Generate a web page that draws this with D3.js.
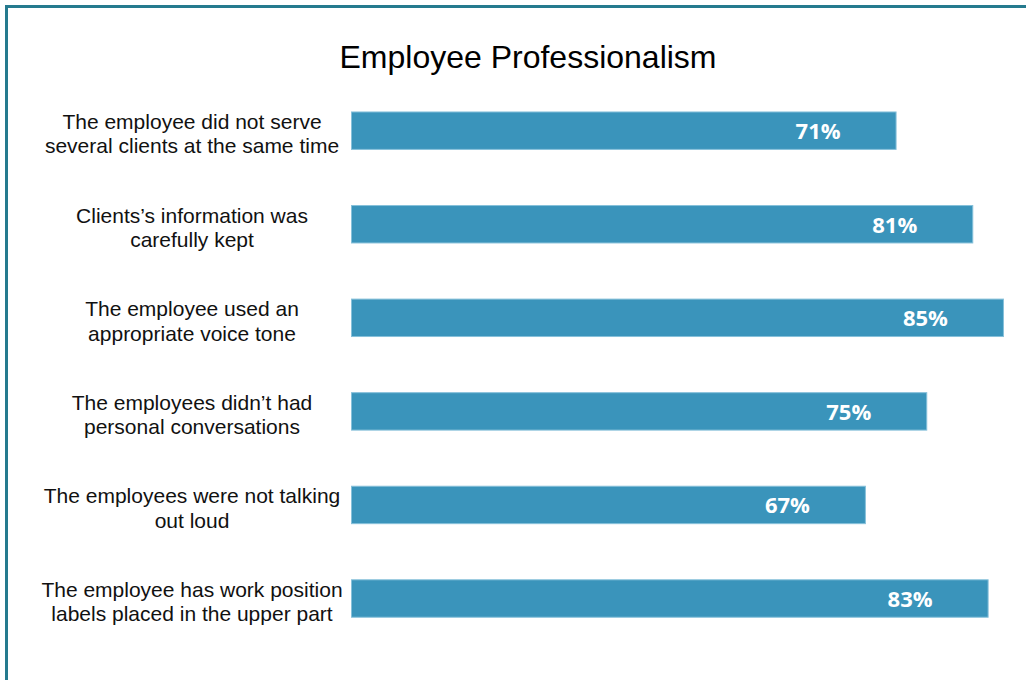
<!DOCTYPE html>
<html>
<head>
<meta charset="utf-8">
<script src="https://cdn.jsdelivr.net/npm/d3@7/dist/d3.min.js"></script>
<style>
  html, body { margin: 0; padding: 0; background: #ffffff; }
  svg { display: block; }
</style>
</head>
<body>
<svg id="chart" width="1026" height="680"></svg>
<script>
// Survey results: share of positive answers per statement
const categories = [
  ["The employee did not serve", "several clients at the same time"],
  ["Clients\u2019s information was", "carefully kept"],
  ["The employee used an", "appropriate voice tone"],
  ["The employees didn\u2019t had", "personal conversations"],
  ["The employees were not talking", "out loud"],
  ["The employee has work position", "labels placed in the upper part"]
];
const values = [0.71, 0.81, 0.85, 0.75, 0.67, 0.83];
const title = "Employee Professionalism";

const W = 1026, H = 680;
const svg = d3.select("#chart");

// Frame around the chart area
svg.append("rect")
  .attr("x", 6.5).attr("y", 6.5)
  .attr("width", W + 20).attr("height", H + 20)
  .attr("fill", "none")
  .attr("stroke", "#257a8e")
  .attr("stroke-width", 3);

// Title
svg.append("text")
  .attr("x", 528).attr("y", 68)
  .attr("text-anchor", "middle")
  .attr("font-family", "'Liberation Sans', Arial, sans-serif")
  .attr("font-size", 32)
  .attr("fill", "#000")
  .text(title);

const idx = d3.range(values.length);

const y = d3.scaleBand()
  .domain(idx)
  .range([83.9, 645.3])
  .paddingInner(0.6)
  .paddingOuter(0.3);

const x = d3.scaleLinear()
  .domain([0, 1])
  .range([351.5, 351.5 + 767]);

// Bars
svg.append("g")
  .selectAll("rect")
  .data(idx)
  .join("rect")
  .attr("x", x(0))
  .attr("y", i => y(i))
  .attr("width", i => x(values[i]) - x(0))
  .attr("height", y.bandwidth())
  .attr("fill", "#3a94bb")
  .attr("stroke", "#86c0da")
  .attr("stroke-width", 1);

// Value labels inside the bars
svg.append("g")
  .selectAll("text")
  .data(idx)
  .join("text")
  .attr("x", i => x(values[i]) - 78)
  .attr("y", i => y(i) + y.bandwidth() / 2 + 8.5)
  .attr("text-anchor", "middle")
  .attr("font-family", "'Open Sans', sans-serif")
  .attr("font-weight", 700)
  .attr("font-size", 22)
  .attr("fill", "#ffffff")
  .text(i => d3.format(".0%")(values[i]));

// Category labels (two lines, centred left of the bars)
const lineGap = 24.5;
const cat = svg.append("g")
  .selectAll("text")
  .data(idx)
  .join("text")
  .attr("text-anchor", "middle")
  .attr("font-family", "'Liberation Sans', Arial, sans-serif")
  .attr("font-size", 21)
  .attr("fill", "#111");

cat.selectAll("tspan")
  .data(i => categories[i].map((t, k) => ({ t, k, i })))
  .join("tspan")
  .attr("x", 192)
  .attr("y", d => y(d.i) + y.bandwidth() / 2 + 3 - lineGap / 2 + 7.5 + d.k * lineGap)
  .text(d => d.t);
</script>
</body>
</html>
